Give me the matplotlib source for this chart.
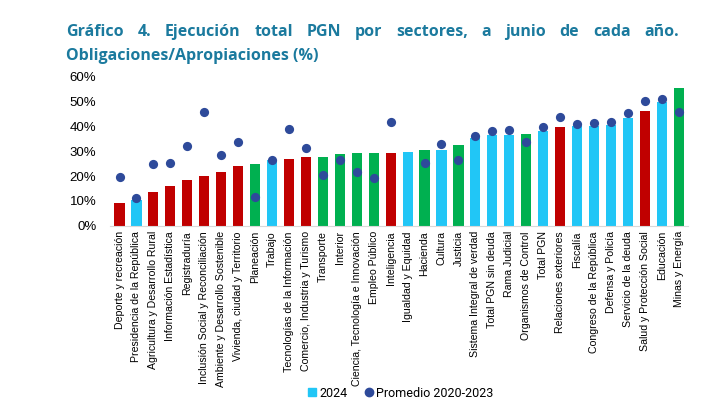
import matplotlib
matplotlib.use("Agg")
from matplotlib import pyplot as plt
from matplotlib.lines import Line2D
import numpy as np

# sectores, ordenados como en el gráfico
sectores = [
    "Deporte y recreación", "Presidencia de la República", "Agricultura y Desarrollo Rural",
    "Información Estadística", "Registraduría", "Inclusión Social y Reconciliación",
    "Ambiente y Desarrollo Sostenible", "Vivienda, ciudad y Territorio", "Planeación",
    "Trabajo", "Tecnologías de la Información", "Comercio, Industria y Turismo",
    "Transporte", "Interior", "Ciencia, Tecnología e Innovación", "Empleo Público",
    "Inteligencia", "Igualdad y Equidad", "Hacienda", "Cultura", "Justicia",
    "Sistema Integral de verdad", "Total PGN sin deuda", "Rama Judicial",
    "Organismos de Control", "Total PGN", "Relaciones exteriores", "Fiscalía",
    "Congreso de la República", "Defensa y Policía", "Servicio de la deuda",
    "Salud y Protección Social", "Educación", "Minas y Energía",
]

ejec_2024 = [9.2, 10.4, 13.6, 15.8, 18.6, 20.1, 21.7, 24.2, 25.0, 26.3, 26.7, 27.8,
             27.8, 28.7, 29.1, 29.4, 29.4, 29.7, 30.4, 30.5, 32.7, 35.4, 36.7, 36.7,
             37.1, 38.1, 39.6, 40.1, 40.1, 40.6, 43.6, 46.4, 49.8, 55.7]

# None = sin dato histórico
promedio_20_23 = [19.6, 11.1, 24.7, 25.1, 32.3, 45.7, 28.3, 33.8, 11.6, 26.5, 39.0, 31.2,
                  20.4, 26.6, 21.5, 19.2, 41.7, None, 25.3, 33.1, 26.3, 36.3, 38.2, 38.7,
                  33.9, 39.6, 43.9, 40.9, 41.2, 41.7, 45.5, 50.2, 51.2, 45.7]

# grupo de cada barra: r = rojo, g = verde, b = celeste
grupo = ["r", "b", "r", "r", "r", "r", "r", "r", "g", "b", "r", "r",
         "g", "g", "g", "g", "r", "b", "g", "b", "g", "b", "b", "b",
         "g", "b", "r", "b", "b", "b", "b", "r", "b", "g"]

paleta = {"r": "#C00000", "g": "#00B050", "b": "#21C6F6"}
color_punto = "#2E4A9A"
color_titulo = "#1B7A9E"

fig = plt.figure(figsize=(7.25, 4.11), dpi=100)
ax = fig.add_axes([0.152, 0.451, 0.797, 0.362])

x = np.arange(len(sectores))
ax.bar(x, np.array(ejec_2024) / 100, width=0.6,
       color=[paleta[g] for g in grupo], zorder=2)

px = [i for i, v in enumerate(promedio_20_23) if v is not None]
py = [promedio_20_23[i] / 100 for i in px]
ax.scatter(px, py, s=44, color=color_punto, zorder=3, linewidths=0)

ax.set_xlim(-0.55, len(sectores) - 0.45)
ax.set_ylim(0, 0.6)
ax.set_yticks(np.arange(0, 0.61, 0.1))
ax.set_yticklabels([f"{int(round(t*100))}%" for t in np.arange(0, 0.61, 0.1)],
                   fontsize=9.5, family="Liberation Sans")
ax.set_xticks(x)
ax.set_xticklabels(sectores, rotation=90, fontsize=7.6, family="Liberation Sans",
                   va="top", ha="center")
ax.tick_params(axis="both", length=0)
ax.tick_params(axis="x", pad=4)
ax.tick_params(axis="y", pad=10)
for s in ["top", "right", "left"]:
    ax.spines[s].set_visible(False)
ax.spines["bottom"].set_color("#D9D9D9")

# titulo justificado en la primera linea
linea1 = "Gráfico 4. Ejecución total PGN por sectores, a junio de cada año.".split()
x0, x1 = 66 / 725, 679 / 725
y1, y2 = 1 - 36 / 411, 1 - 60 / 411
tprops = dict(fontsize=11.5, fontweight="bold", color=color_titulo, family="Open Sans")
fig.canvas.draw()
r = fig.canvas.get_renderer()
objs = [fig.text(0, y1, w, **tprops) for w in linea1]
anchos = [o.get_window_extent(r).width / fig.bbox.width for o in objs]
hueco = (x1 - x0 - sum(anchos)) / (len(objs) - 1)
pos = x0
for o, a in zip(objs, anchos):
    o.set_x(pos)
    pos += a + hueco
fig.text(x0, y2, "Obligaciones/Apropiaciones (%)", **tprops)

handles = [
    Line2D([], [], marker="s", linestyle="none", color=paleta["b"], markersize=5.5),
    Line2D([], [], marker="o", linestyle="none", color=color_punto, markersize=6),
]
fig.legend(handles, ["2024", "Promedio 2020-2023"], loc="center",
           bbox_to_anchor=(0.551, 1 - 393 / 411), ncol=2, frameon=False,
           prop={"family": "Roboto", "size": 9}, handletextpad=0.1,
           columnspacing=1.2, handlelength=1.0)

fig.savefig("out.png", dpi=100)
